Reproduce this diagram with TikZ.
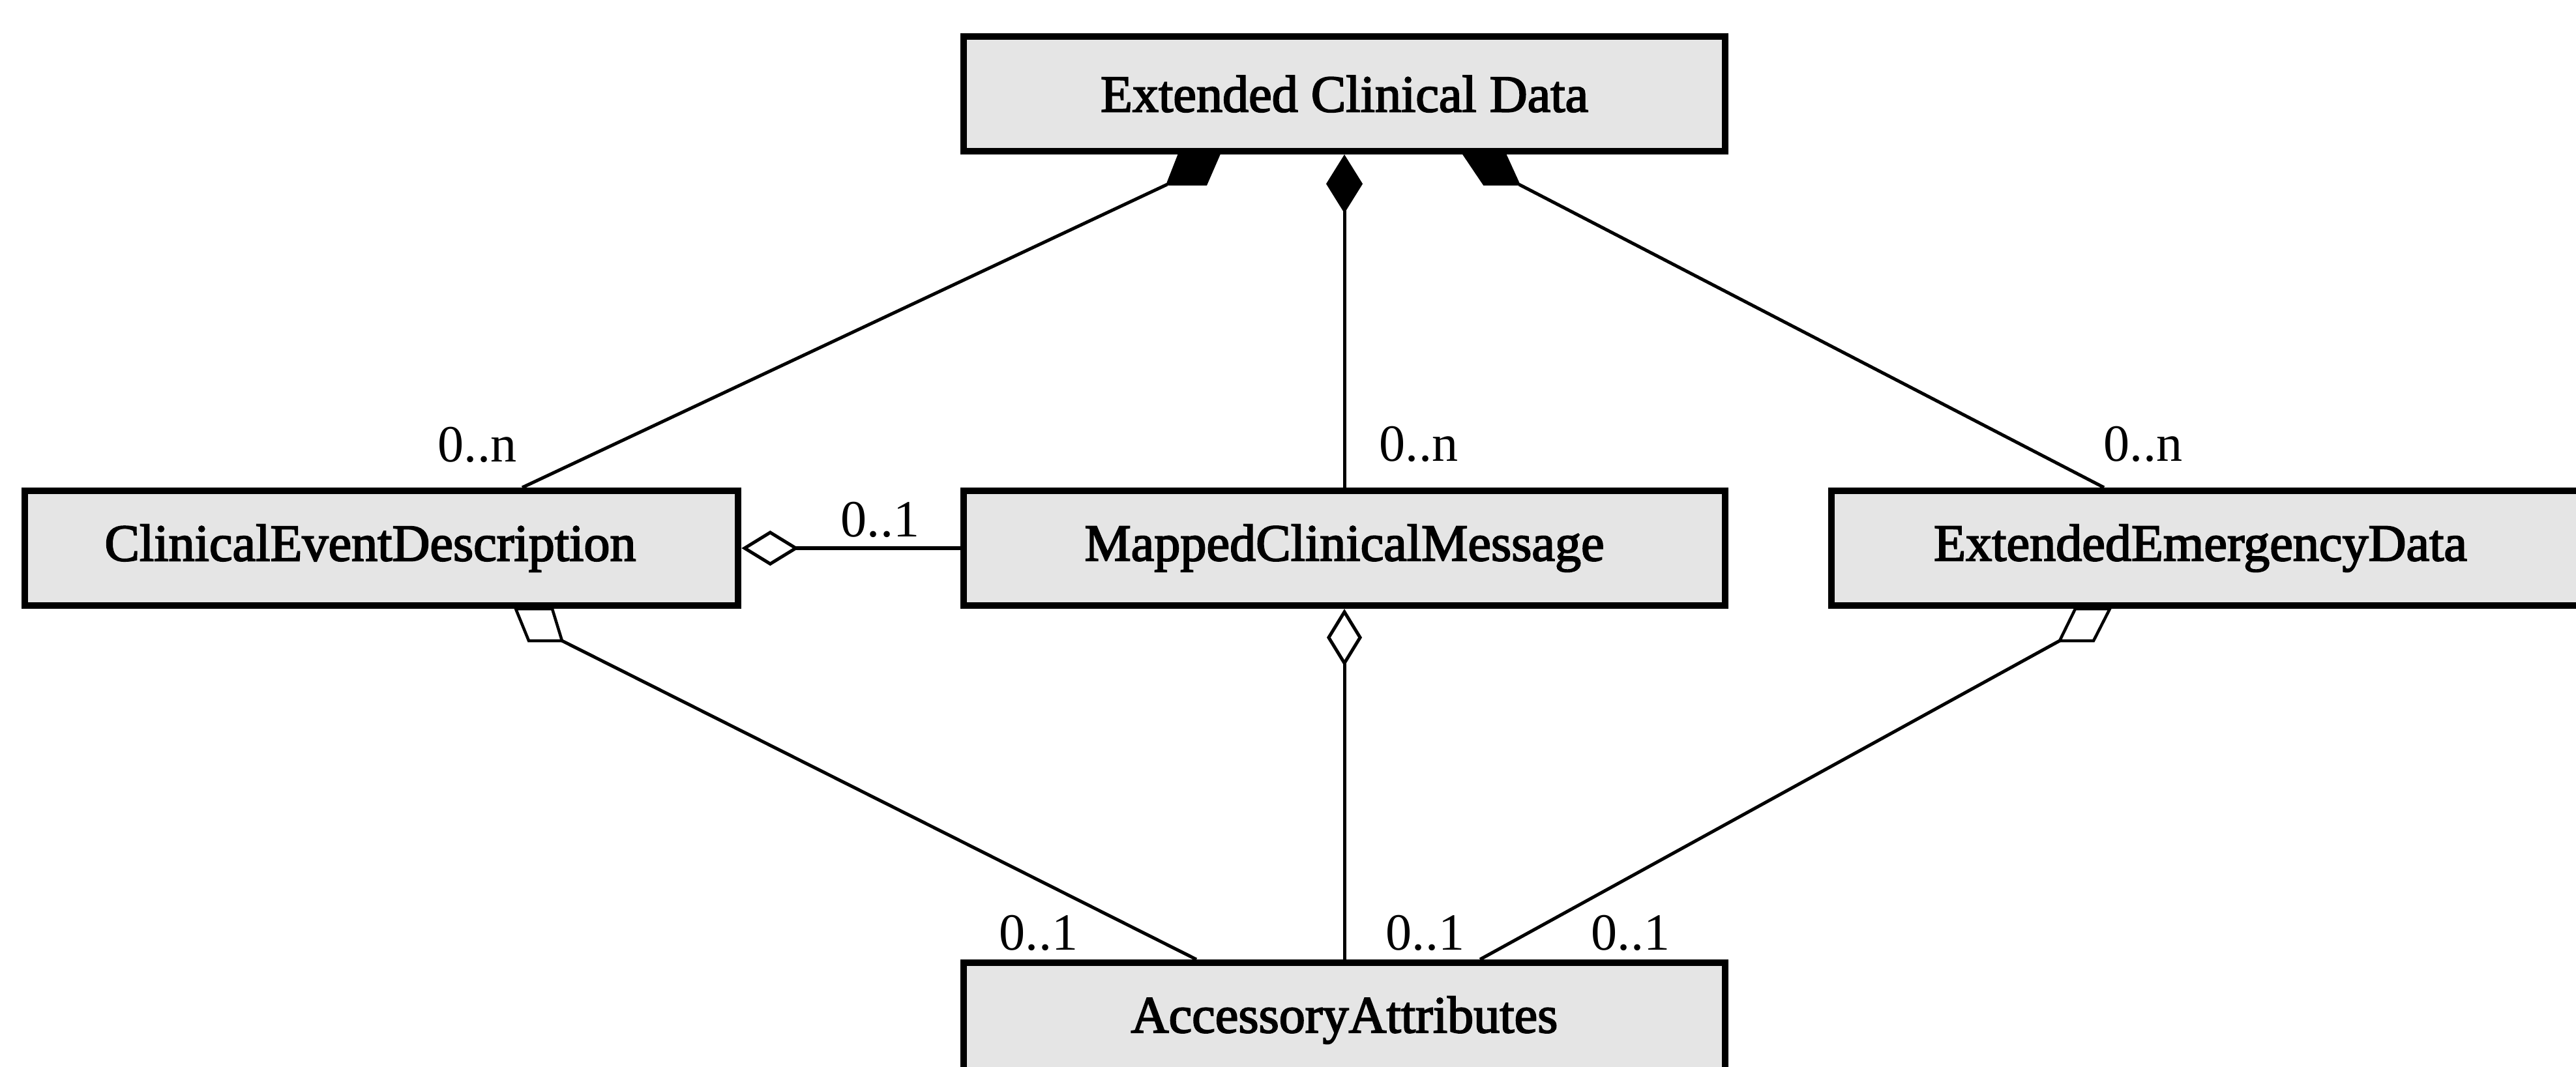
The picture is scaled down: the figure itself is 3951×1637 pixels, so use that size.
\documentclass[tikz,border=0pt]{standalone}
\usepackage{fontspec}
\setmainfont{Liberation Serif}
\newfontfamily\boxfont{Liberation Serif}[FakeBold=2.5]
\usetikzlibrary{arrows.meta,calc}

\begin{document}
\begin{tikzpicture}[x=0.01cm, y=-0.01cm,
  umlclass/.style={draw=black, line width=0.1cm, fill=black!10,
    minimum width=11.68cm, minimum height=1.76cm, inner sep=0pt,
    font=\boxfont\fontsize{22.8pt}{27pt}\selectfont},
  link/.style={line width=0.05cm},
  mult/.style={inner sep=0pt, font=\fontsize{22.8pt}{27pt}\selectfont},
  compstub/.style={fill=black, draw=black, line width=0.03cm, line join=miter},
  aggrstub/.style={fill=white, draw=black, line width=0.045cm, line join=miter},
  compdiamond/.style={{Diamond[length=0.9cm, width=0.56cm]}-},
  aggrdiamond/.style={{Diamond[open, length=0.88cm, width=0.54cm]}-},
]
\useasboundingbox (0,0) rectangle (3951,1637);
\clip (0,0) rectangle (3951,1637);

% classes
\node[umlclass] (ecd) at (2062,144) {Extended Clinical Data};
\node[umlclass, minimum width=10.94cm] (ced) at (585,841) {\hspace*{-0.34cm}ClinicalEventDescription};
\node[umlclass] (mcm) at (2062,841) {MappedClinicalMessage};
\node[umlclass] (eed) at (3393,841) {\hspace*{-0.36cm}ExtendedEmergencyData};
\node[umlclass] (aa) at (2062,1565) {AccessoryAttributes};

% compositions from Extended Clinical Data
\fill[compstub] ($(ecd.south)+(-254,0)$) -- ($(ecd.south)+(-192,0)$)
  -- ($(ecd.south)+(-212,46)$) -- ($(ecd.south)+(-272,46)$) -- cycle;
\draw[link] ($(ecd.south)+(-272,46)$) -- ($(ced.north)+(216,0)$);

\draw[link, compdiamond] (ecd.south) -- (mcm.north);

\fill[compstub] ($(ecd.south)+(183,0)$) -- ($(ecd.south)+(247,0)$)
  -- ($(ecd.south)+(268,46)$) -- ($(ecd.south)+(214,46)$) -- cycle;
\draw[link] ($(ecd.south)+(268,46)$) -- ($(eed.north)+(-166,0)$);

% aggregations
\draw[link, aggrdiamond] (ced.east) -- (mcm.west);

\filldraw[aggrstub] ($(ced.south)+(206,0)$) -- ($(ced.south)+(262,0)$)
  -- ($(ced.south)+(277,49)$) -- ($(ced.south)+(226,49)$) -- cycle;
\draw[link] ($(ced.south)+(277,49)$) -- ($(aa.north)+(-227,0)$);

\draw[link, aggrdiamond] (mcm.south) -- (aa.north);

\filldraw[aggrstub] ($(eed.south)+(-210,0)$) -- ($(eed.south)+(-157,0)$)
  -- ($(eed.south)+(-182,49)$) -- ($(eed.south)+(-234,49)$) -- cycle;
\draw[link] ($(eed.south)+(-234,49)$) -- ($(aa.north)+(208,0)$);

% multiplicities
\node[mult] (mced) at (732,682) {0..n};
\node[mult] (mmcm) at (2176,681) {0..n};
\node[mult] (meed) at (3287,681) {0..n};
\node[mult] (magg) at (1350,797) {0..1};
\node[mult] (maa1) at (1593,1431) {0..1};
\node[mult] (maa2) at (2186,1431) {0..1};
\node[mult] (maa3) at (2501,1431) {0..1};
\end{tikzpicture}
\end{document}
